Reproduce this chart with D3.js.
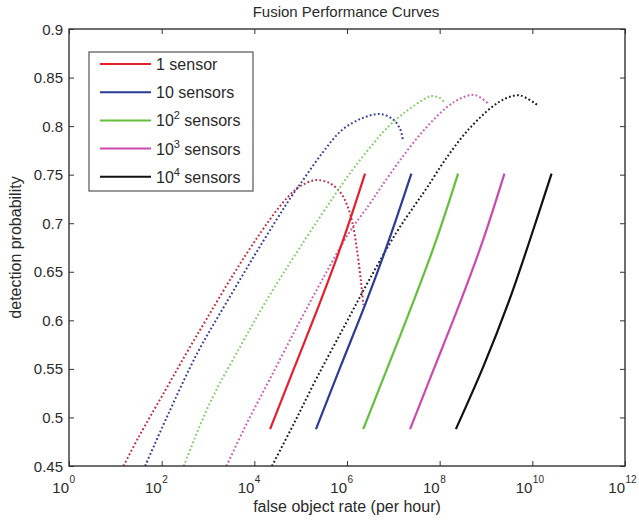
<!DOCTYPE html>
<html>
<head>
<meta charset="utf-8">
<script src="https://cdn.jsdelivr.net/npm/d3@7"></script>
<style>
  body { margin: 0; background: #fff; }
  text { font-family: "Liberation Sans", Arial, Helvetica, sans-serif; fill: #2a2a2a; }
</style>
</head>
<body>
<svg id="chart" width="639" height="522"></svg>
<script>
// Legend entries: base and optional exponent ("10" with superscript)
const legendBase = ["1", "10", "10", "10", "10"];
const legendExp = [null, null, "2", "3", "4"];
const legendSuffix = [" sensor", " sensors", " sensors", " sensors", " sensors"];

// Axis ticks
const xTickExps = [0, 2, 4, 6, 8, 10, 12];
const yTicks = [0.45, 0.5, 0.55, 0.6, 0.65, 0.7, 0.75, 0.8, 0.85, 0.9];
const yTickLabels = ["0.45", "0.5", "0.55", "0.6", "0.65", "0.7", "0.75", "0.8", "0.85", "0.9"];

// Dotted (model) curves: false object rate per hour vs detection probability
const dot1Rate = [1.5e1, 3.2e1, 1.2e2, 3.5e2, 9.5e2, 3.5e3, 1.15e4, 3.5e4, 7.9e4, 1.4e5, 2.3e5, 4.3e5, 7.1e5, 1.0e6, 1.3e6, 1.65e6, 2.0e6, 2.25e6];
const dot1Prob = [0.45, 0.480, 0.528, 0.567, 0.602, 0.647, 0.685, 0.717, 0.735, 0.742, 0.7445, 0.741, 0.732, 0.719, 0.701, 0.672, 0.640, 0.616];

const dot10Rate = [4.4e1, 1.3e2, 6.0e2, 2.7e3, 1.3e4, 6.2e4, 1.0e5, 2.9e5, 7.8e5, 2.1e6, 5.1e6, 9.8e6, 1.4e7, 1.6e7];
const dot10Prob = [0.45, 0.5005, 0.567, 0.621, 0.6755, 0.727, 0.741, 0.772, 0.796, 0.808, 0.8125, 0.807, 0.797, 0.786];

const dot100Rate = [3.0e2, 1.1e3, 4.9e3, 1.86e4, 9.8e4, 8.1e5, 1.9e6, 3.8e6, 6.6e6, 1.7e7, 5.6e7, 6.8e7, 1.0e8, 1.3e8];
const dot100Prob = [0.45, 0.515, 0.5725, 0.621, 0.6755, 0.741, 0.765, 0.7826, 0.796, 0.8135, 0.830, 0.831, 0.829, 0.824];

const dot1000Rate = [2.5e3, 6.9e3, 2.3e4, 9.1e4, 2.9e5, 1.1e6, 3.0e6, 5.4e6, 1.4e7, 4.6e7, 1.45e8, 3.0e8, 5.8e8, 1.1e9];
const dot1000Prob = [0.45, 0.494, 0.542, 0.597, 0.6415, 0.690, 0.719, 0.737, 0.765, 0.796, 0.8197, 0.829, 0.832, 0.8235];

const dot10000Rate = [2.4e4, 7.2e4, 2.3e5, 9.5e5, 3.0e6, 1.15e7, 2.95e7, 5.4e7, 1.3e8, 4.1e8, 1.35e9, 2.8e9, 5.4e9, 1.26e10];
const dot10000Prob = [0.45, 0.494, 0.542, 0.597, 0.6415, 0.690, 0.719, 0.737, 0.765, 0.796, 0.8197, 0.829, 0.8316, 0.822];

// Solid (measured) curves
const sol1Rate = [2.19e4, 7.4e4, 2.75e5, 8.3e5, 2.45e6];
const sol1Prob = [0.488, 0.552, 0.621, 0.683, 0.751];

const sol10Rate = [2.14e5, 7.2e5, 2.7e6, 8.1e6, 2.45e7];
const sol10Prob = [0.488, 0.552, 0.621, 0.683, 0.751];

const sol100Rate = [2.24e6, 7.6e6, 2.8e7, 8.5e7, 2.5e8];
const sol100Prob = [0.488, 0.552, 0.621, 0.683, 0.751];

const sol1000Rate = [2.3e7, 7.8e7, 2.9e8, 8.7e8, 2.5e9];
const sol1000Prob = [0.488, 0.552, 0.621, 0.683, 0.751];

const sol10000Rate = [2.24e8, 8.7e8, 3.2e9, 8.9e9, 2.6e10];
const sol10000Prob = [0.488, 0.552, 0.621, 0.683, 0.751];

const solidColors = ["#e5202c", "#2b3b98", "#62c03c", "#cc4aae", "#111111"];
const dottedColors = ["#c42a40", "#333f92", "#86cc6c", "#cc5cb4", "#1c1c1c"];

const pair = (xs, ys) => xs.map((v, i) => ({ rate: v, prob: ys[i] }));
const dotted = [
  pair(dot1Rate, dot1Prob), pair(dot10Rate, dot10Prob), pair(dot100Rate, dot100Prob),
  pair(dot1000Rate, dot1000Prob), pair(dot10000Rate, dot10000Prob)
];
const solid = [
  pair(sol1Rate, sol1Prob), pair(sol10Rate, sol10Prob), pair(sol100Rate, sol100Prob),
  pair(sol1000Rate, sol1000Prob), pair(sol10000Rate, sol10000Prob)
];

const svg = d3.select("#chart");
const L = 69, R = 625, T = 29, B = 466;

const x = d3.scaleLog().domain([1, 1e12]).range([L, R]);
const y = d3.scaleLinear().domain([0.45, 0.9]).range([B, T]);

svg.append("defs").append("clipPath").attr("id", "plotClip")
  .append("rect").attr("x", L).attr("y", T).attr("width", R - L).attr("height", B - T);

const line = d3.line().x(d => x(d.rate)).y(d => y(d.prob)).curve(d3.curveCatmullRom.alpha(0.5));

const plot = svg.append("g").attr("clip-path", "url(#plotClip)");

// model curves drawn as dotted lines
dotted.forEach((pts, i) => {
  plot.append("path").datum(pts)
    .attr("d", line)
    .attr("fill", "none")
    .attr("stroke", dottedColors[i])
    .attr("stroke-width", 2)
    .attr("stroke-dasharray", "1.8 2.3");
});

// measured curves drawn as solid lines
solid.forEach((pts, i) => {
  plot.append("path").datum(pts)
    .attr("d", line)
    .attr("fill", "none")
    .attr("stroke", solidColors[i])
    .attr("stroke-width", 2.2)
    .attr("stroke-linejoin", "round");
});

// axes with inward ticks on all four sides
const xTickVals = xTickExps.map(e => Math.pow(10, e));
const styleAxis = g => {
  g.select(".domain").remove();
  g.selectAll(".tick line").attr("stroke", "#333").attr("stroke-width", 1);
};
svg.append("g").attr("transform", `translate(0,${B})`)
  .call(d3.axisBottom(x).tickValues(xTickVals).tickSize(-5).tickFormat(() => ""))
  .call(styleAxis);
svg.append("g").attr("transform", `translate(0,${T})`)
  .call(d3.axisTop(x).tickValues(xTickVals).tickSize(-5).tickFormat(() => ""))
  .call(styleAxis);
svg.append("g").attr("transform", `translate(${L},0)`)
  .call(d3.axisLeft(y).tickValues(yTicks).tickSize(-5).tickFormat(() => ""))
  .call(styleAxis);
svg.append("g").attr("transform", `translate(${R},0)`)
  .call(d3.axisRight(y).tickValues(yTicks).tickSize(-5).tickFormat(() => ""))
  .call(styleAxis);

// frame
svg.append("rect").attr("x", L).attr("y", T).attr("width", R - L).attr("height", B - T)
  .attr("fill", "none").attr("stroke", "#333").attr("stroke-width", 1.4);

// y tick labels
svg.append("g").selectAll("text").data(yTicks).join("text")
  .attr("x", L - 6).attr("y", d => y(d))
  .attr("text-anchor", "end").attr("dominant-baseline", "central")
  .attr("font-size", 15)
  .text((d, i) => yTickLabels[i]);

// x tick labels: 10 with superscript exponent
const xl = svg.append("g").selectAll("g").data(xTickExps).join("g")
  .attr("transform", e => `translate(${x(Math.pow(10, e))},0)`);
xl.append("text").attr("x", 0).attr("y", 493).attr("text-anchor", "end")
  .attr("font-size", 15).text("10");
xl.append("text").attr("x", 0.5).attr("y", 483).attr("text-anchor", "start")
  .attr("font-size", 10).text(e => e);

// axis titles
svg.append("text").attr("x", (L + R) / 2).attr("y", 512).attr("text-anchor", "middle")
  .attr("font-size", 16).text("false object rate (per hour)");
svg.append("text").attr("transform", `translate(15,${(T + B) / 2}) rotate(-90)`)
  .attr("text-anchor", "middle").attr("dominant-baseline", "central")
  .attr("font-size", 16).text("detection probability");

// title
svg.append("text").attr("x", 346).attr("y", 17).attr("text-anchor", "middle")
  .attr("font-size", 15).text("Fusion Performance Curves");

// legend
const lg = svg.append("g");
lg.append("rect").attr("x", 89).attr("y", 52).attr("width", 164).attr("height", 139)
  .attr("fill", "#fff").attr("stroke", "#555").attr("stroke-width", 1.2);
const rows = lg.selectAll("g.row").data(legendBase).join("g").attr("class", "row")
  .attr("transform", (d, i) => `translate(0,${64 + i * 28.2})`);
rows.append("line").attr("x1", 100).attr("x2", 151).attr("y1", 0).attr("y2", 0)
  .attr("stroke", (d, i) => solidColors[i]).attr("stroke-width", 2);
const lt = rows.append("text").attr("x", 156).attr("y", 6).attr("font-size", 16);
lt.append("tspan").text(d => d);
lt.append("tspan").attr("dy", -7).attr("font-size", 11).text((d, i) => legendExp[i] || "");
lt.append("tspan").attr("dy", (d, i) => legendExp[i] ? 7 : 0).text((d, i) => legendSuffix[i]);
</script>
</body>
</html>
